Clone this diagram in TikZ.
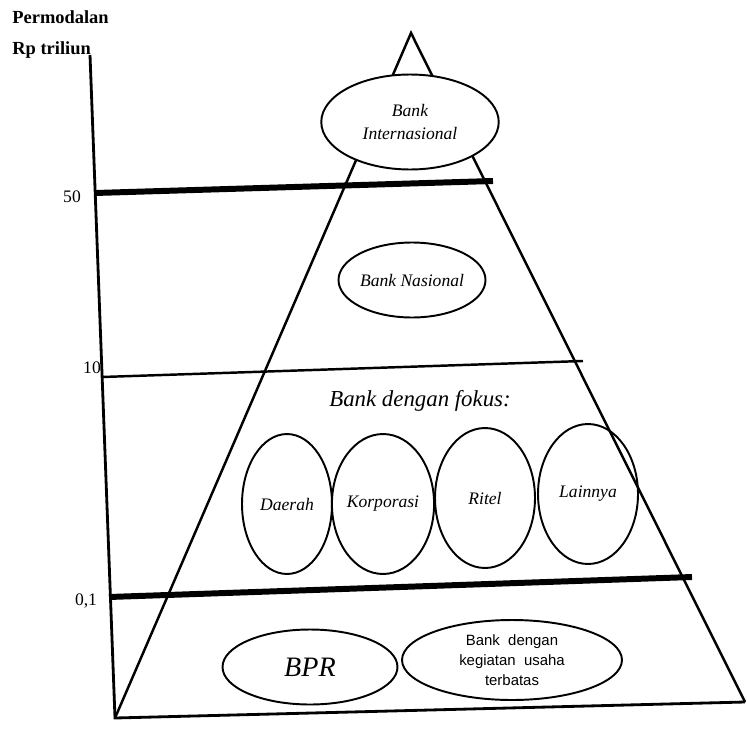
\documentclass[tikz,border=0pt]{standalone}
\usepackage{fontspec}
\setmainfont{Liberation Serif}
\setsansfont{Liberation Sans}
\usetikzlibrary{shapes.geometric}

\begin{document}
\begin{tikzpicture}[x=0.02cm, y=-0.02cm,
      oval/.style={ellipse, draw, line width=1.1pt, inner sep=0pt, align=center,
        font=\itshape\fontsize{10}{13}\selectfont},
      focus/.style={oval, minimum width=2cm, minimum height=2.8cm},
      level/.style={line width=3.4pt},
      thinlevel/.style={line width=1.4pt},
      tick/.style={font=\fontsize{10}{12}\selectfont},
      axlabel/.style={anchor=west, inner sep=0pt, font=\bfseries\fontsize{10.5}{12}\selectfont}]
      \useasboundingbox (0,0) rectangle (747,730);
      % axis title
      \node[axlabel] (title) at (12,17) {Permodalan};
      \node[axlabel] (unit) at (12,50) {Rp triliun};
      % axis and pyramid
      \coordinate (axtop) at (90,55);
      \coordinate (bl) at (115,718);
      \coordinate (apex) at (411,33);
      \coordinate (br) at (745,702);
      \draw[line width=1.6pt] (axtop) -- (bl) -- (br);
      \draw[line width=1.4pt] (bl) -- (apex) -- (br);
      % levels
      \coordinate (l50a) at (95,193);
      \coordinate (l50b) at (493,181);
      \coordinate (l10a) at (102,377);
      \coordinate (l10b) at (583,361);
      \coordinate (l01a) at (109,597);
      \coordinate (l01b) at (692,577);
      \draw[level] (l50a) -- (l50b);
      \draw[thinlevel] (l10a) -- (l10b);
      \draw[level] (l01a) -- (l01b);
      \node[tick] (t50) at (72,197) {50};
      \node[tick] (t10) at (92,368) {10};
      \node[tick] (t01) at (86,601) {0,1};
      % top
      \node[oval, fill=white, minimum width=3.55cm, minimum height=1.9cm]
        (intl) at (410,122) {Bank\\Internasional};
      \node[oval, minimum width=2.6cm, minimum height=1.5cm]
        (nasional) at (412,280) {Bank Nasional};
      % focus banks
      \node[font=\itshape\fontsize{13}{15}\selectfont] (fokus) at (420,401) {Bank dengan fokus:};
      \node[focus, minimum width=1.8cm] (daerah) at (287,504) {Daerah};
      \node[focus] (korporasi) at (383,504) {Korporasi};
      \node[focus] (ritel) at (485,498) {Ritel};
      \node[focus] (lainnya) at (588,494) {Lainnya};
      % bottom
      \node[oval, minimum width=3.5cm, minimum height=1.5cm,
        font=\itshape\fontsize{16}{18}\selectfont] (bpr) at (310,667) {BPR};
      \node[oval, minimum width=4.4cm, minimum height=1.6cm,
        font=\sffamily\fontsize{8.5}{11.5}\selectfont] (terbatas) at (512,660)
        {Bank\ \ dengan\\kegiatan\ \ usaha\\terbatas};
  \end{tikzpicture}
\end{document}
